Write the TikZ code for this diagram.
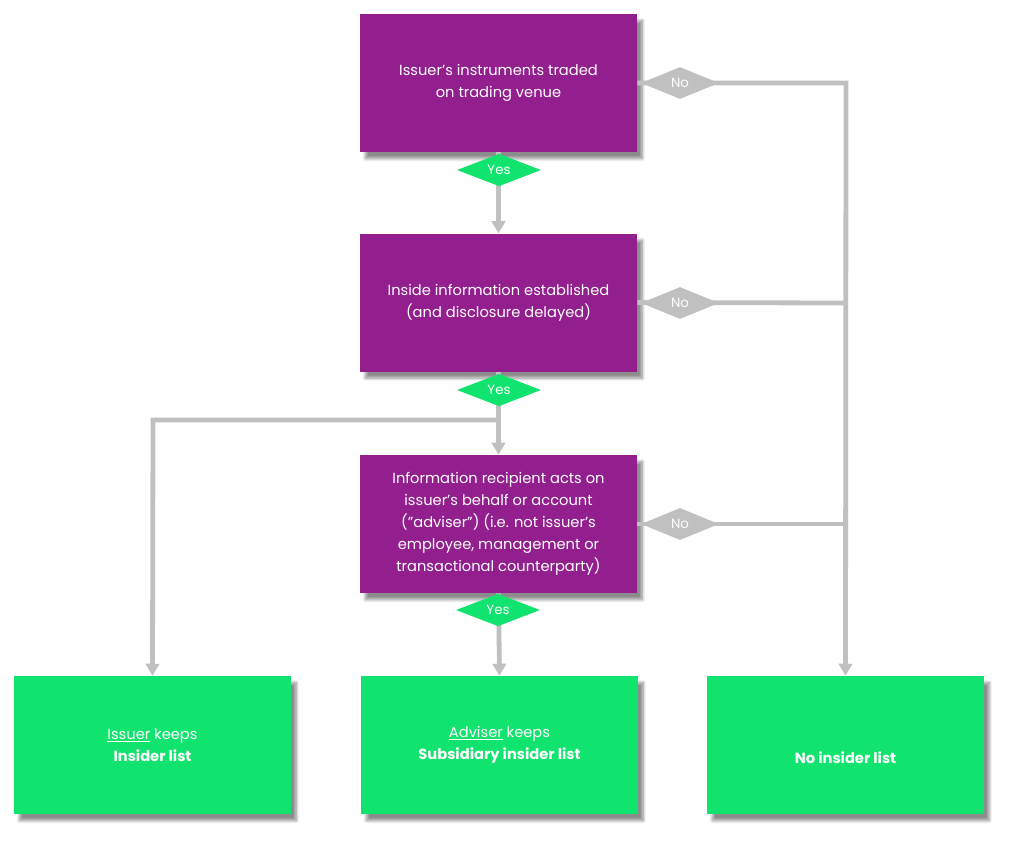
\documentclass[tikz,border=0pt]{standalone}
\usepackage{fontspec}
\setmainfont{Poppins}
\usetikzlibrary{shapes.geometric,arrows.meta,shadows.blur}
\definecolor{purp}{HTML}{931F8F}
\definecolor{grn}{HTML}{11E46E}
\definecolor{gry}{HTML}{C0C0C0}
\begin{document}
\begin{tikzpicture}[x=0.75pt,y=-0.75pt,
  box/.style={rectangle,minimum width=207.75pt,minimum height=103.5pt,align=center,font=\fontsize{11}{16.5}\selectfont,text=white,inner sep=0pt,blur shadow={shadow xshift=4pt,shadow yshift=-5pt,shadow blur steps=10,shadow opacity=45}},
  pbox/.style={box,fill=purp},
  gbox/.style={box,fill=grn},
  yes/.style={diamond,fill=grn,text=white,font=\fontsize{10}{12}\selectfont,minimum width=63pt,minimum height=21pt,inner sep=0pt},
  no/.style={diamond,fill=gry,text=white,font=\fontsize{10}{12}\selectfont,minimum width=58.5pt,minimum height=24pt,inner sep=0pt},
  ln/.style={draw=gry,line width=3.6pt},
  ar/.style={ln,-{Triangle[length=9pt,width=10pt]}}]
\useasboundingbox (0,0) rectangle (1014,844);
\node[pbox] (b1) at (498.5,83) {Issuer's instruments traded\\on trading venue};
\node[pbox] (b2) at (498.5,302.5) {Inside information established\\(and disclosure delayed)};
\node[pbox] (b3) at (498.5,524) {Information recipient acts on\\issuer's behalf or account\\("adviser") (i.e. not issuer's\\employee, management or\\transactional counterparty)};
\node[gbox] (g1) at (152.5,745) {\underline{Issuer} keeps\\\textbf{Insider list}};
\node[gbox] (g2) at (499.5,745) {\underline{Adviser} keeps\\\textbf{Subsidiary insider list}};
\node[gbox] (g3) at (845.5,745) {\strut\\\textbf{No insider list}};
\coordinate (c1) at (846,83);
\coordinate (c2) at (846,303);
\coordinate (c3) at (846,524);
\coordinate (s) at (499,420);
\coordinate (l) at (153,420);
\draw[ar] (b1.south) -- (b2.north);
\draw[ar] (b2.south) -- (b3.north);
\draw[ar] (b3.south) -- (g2.north);
\draw[ar] (s) -- (l) -- (g1.north);
\draw[ar] (b1.east) -- (c1) -- (g3.north);
\draw[ln] (b2.east) -- (c2);
\draw[ln] (b3.east) -- (c3);
\node[yes] at (499,170) {Yes};
\node[yes] at (499,390) {Yes};
\node[yes] at (498,610) {Yes};
\node[no] at (680,83) {No};
\node[no] at (680,303) {No};
\node[no] at (680,524) {No};
\end{tikzpicture}
\end{document}
